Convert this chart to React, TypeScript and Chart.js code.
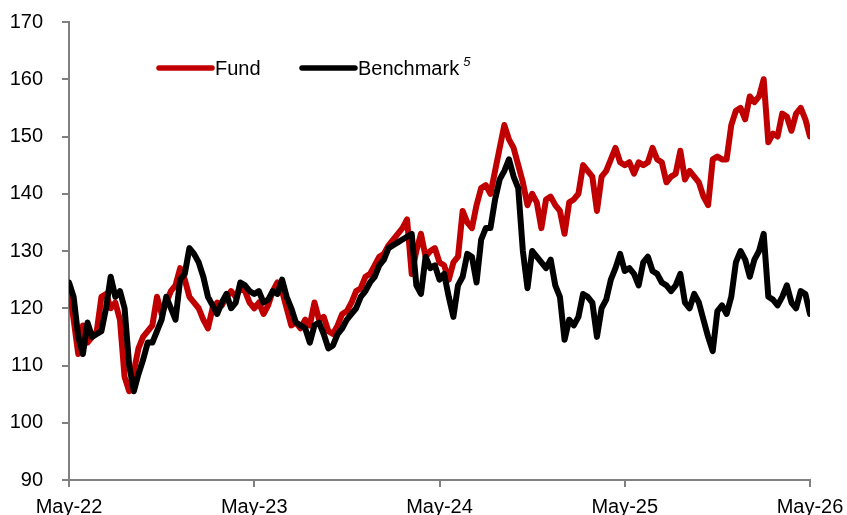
import { useEffect, useRef } from 'react';
import { Chart, registerables } from 'chart.js';

Chart.register(...registerables);

const tickLabels = ['May-22', 'May-23', 'May-24', 'May-25', 'May-26'];
const seriesNames = ['Fund', 'Benchmark'];
const footnote = '5';

const fund = [
  124, 118, 112, 117, 114, 115, 116, 122, 122.5, 120,
  121, 118, 108, 105.5, 109, 113, 115, 116, 117, 122,
  119, 121, 123, 124, 127, 125, 122, 121, 120, 118,
  116.5, 120, 121, 120.5, 122, 123, 122, 123.5, 123, 121,
  120, 121, 119, 120.5, 123, 124.5, 123, 120, 117, 117.5,
  116.5, 118, 117, 121, 118, 118.5, 116, 115.5, 117, 119,
  119.5, 121, 123, 123.5, 125.5, 126, 127.5, 129, 129.5, 131,
  132, 133, 134, 135.5, 126, 130, 133, 129, 130, 130.5,
  128, 127.5, 125, 128, 129, 137, 135, 134, 138, 141,
  141.5, 140, 144, 148, 152, 149.5, 148, 145, 142, 138,
  140, 138.5, 134, 139, 139.5, 138, 137, 133, 138.5, 139,
  140, 145, 144, 143, 137, 143, 144, 146, 148, 145.5,
  145, 145.5, 143.5, 145.5, 145, 145.5, 148, 146, 145.5, 142,
  143, 143.5, 147.5, 142.5, 144, 143, 142, 139.5, 138, 146,
  146.5, 146, 146, 152, 154.5, 155, 153, 157, 156, 157,
  160, 149, 150.5, 150, 154, 153.5, 151, 154, 155, 153,
  150,
];

const benchmark = [
  124.5, 122, 115, 112, 117.5, 115, 115.5, 116, 120, 125.5,
  122, 123, 120, 110, 105.5, 108.5, 111, 114, 114, 116,
  118, 122, 120, 118, 125, 126, 130.5, 129.5, 128, 125.5,
  122, 120.5, 119, 121, 122.5, 120, 121, 124.5, 124, 123,
  122.5, 123, 121, 121.5, 123, 122.5, 125, 122, 120, 117.5,
  117, 116.5, 114, 117, 117.5, 115.5, 113, 113.5, 115.5, 116.5,
  118, 119, 120, 122, 123, 124.5, 125.5, 127.5, 128.5, 130.5,
  131, 131.5, 132, 132.5, 133, 124, 122.5, 129, 127, 127.5,
  125, 126, 122, 118.5, 124, 125.5, 129.5, 129, 124.5, 132,
  134, 134, 139, 142.5, 144, 146, 143, 141, 130, 123.5,
  130, 129, 128, 127, 128.5, 124, 122, 114.5, 118, 117,
  118.5, 122.5, 122, 121, 115, 120, 121.5, 125, 127, 129.5,
  126.5, 127, 126, 124, 128, 129, 126.5, 126, 124.5, 124,
  123, 124, 126, 121, 120, 122.5, 121, 118, 115, 112.5,
  119.5, 120.5, 119, 122, 128, 130, 128.5, 125.5, 128.5, 130,
  133, 122, 121.5, 120.5, 122, 124, 121, 120, 123, 122.5,
  119,
];

const FUND_COLOR = '#C00000';
const BENCH_COLOR = '#000000';
const AXIS_COLOR = '#808080';
const FONT = "'Liberation Sans', Arial, sans-serif";

export default function App() {
  const ref = useRef<HTMLCanvasElement | null>(null);

  useEffect(() => {
    document.body.style.margin = '0';
    const canvas = ref.current;
    if (!canvas) return;
    const span = tickLabels.length - 1;
    const toPoints = (arr: number[]) =>
      arr.map((y, i) => ({ x: (i * span) / (arr.length - 1), y }));

    const legendPlugin = {
      id: 'inlineLegend',
      afterDraw(chart: any) {
        const ctx = chart.ctx as CanvasRenderingContext2D;
        const a = chart.chartArea;
        const y = a.top + 46;
        const items = [
          { name: seriesNames[0], color: FUND_COLOR, x: a.left + 88 },
          { name: seriesNames[1], color: BENCH_COLOR, x: a.left + 231 },
        ];
        ctx.save();
        items.forEach((it, idx) => {
          ctx.beginPath();
          ctx.strokeStyle = it.color;
          ctx.lineWidth = 5.5;
          ctx.lineCap = 'round';
          ctx.moveTo(it.x + 2, y);
          ctx.lineTo(it.x + 55, y);
          ctx.stroke();
          ctx.fillStyle = '#000';
          ctx.font = `20px ${FONT}`;
          ctx.textBaseline = 'middle';
          ctx.textAlign = 'left';
          const tx = it.x + 58;
          ctx.fillText(it.name, tx, y + 1);
          if (idx === 1) {
            const w = ctx.measureText(it.name).width;
            ctx.font = `italic 13px ${FONT}`;
            ctx.fillText(footnote, tx + w + 4, y - 6);
          }
        });
        ctx.restore();
      },
    };

    const chart = new Chart(canvas, {
      type: 'line',
      data: {
        datasets: [
          {
            label: seriesNames[0],
            data: toPoints(fund),
            borderColor: FUND_COLOR,
            backgroundColor: FUND_COLOR,
            borderWidth: 6,
            pointRadius: 0,
            tension: 0,
            borderJoinStyle: 'round',
            borderCapStyle: 'round',
            order: 2,
          },
          {
            label: seriesNames[1],
            data: toPoints(benchmark),
            borderColor: BENCH_COLOR,
            backgroundColor: BENCH_COLOR,
            borderWidth: 6,
            pointRadius: 0,
            tension: 0,
            borderJoinStyle: 'round',
            borderCapStyle: 'round',
            order: 1,
          },
        ],
      },
      options: {
        animation: false,
        responsive: true,
        maintainAspectRatio: false,
        devicePixelRatio: 1,
        layout: { padding: { top: 22, right: 37, left: 0, bottom: 0 } },
        plugins: {
          legend: { display: false },
          tooltip: { enabled: false },
        },
        scales: {
          x: {
            type: 'linear',
            min: 0,
            max: span,
            afterFit: (s: any) => {
              s.height = 35;
              s.paddingLeft = 0;
              s.paddingRight = 0;
            },
            ticks: {
              stepSize: 1,
              autoSkip: false,
              maxRotation: 0,
              color: '#000',
              padding: 8,
              font: { family: FONT, size: 20 },
              callback: (v: any) => tickLabels[Math.round(Number(v))] ?? '',
            },
            grid: {
              drawOnChartArea: false,
              drawTicks: true,
              tickLength: 7,
              color: AXIS_COLOR,
              lineWidth: 2,
            },
            border: { color: AXIS_COLOR, width: 2 },
          },
          y: {
            min: 90,
            max: 170,
            afterFit: (s: any) => {
              s.width = 69;
              s.paddingTop = 0;
              s.paddingBottom = 0;
            },
            ticks: {
              stepSize: 10,
              color: '#000',
              padding: 19,
              font: { family: FONT, size: 20 },
            },
            grid: {
              drawOnChartArea: false,
              drawTicks: true,
              tickLength: 7,
              color: AXIS_COLOR,
              lineWidth: 2,
            },
            border: { color: AXIS_COLOR, width: 2 },
          },
        },
      },
      plugins: [legendPlugin],
    } as any);

    return () => chart.destroy();
  }, []);

  return (
    <div style={{ width: 847, height: 515, position: 'relative' }}>
      <canvas ref={ref} />
    </div>
  );
}
